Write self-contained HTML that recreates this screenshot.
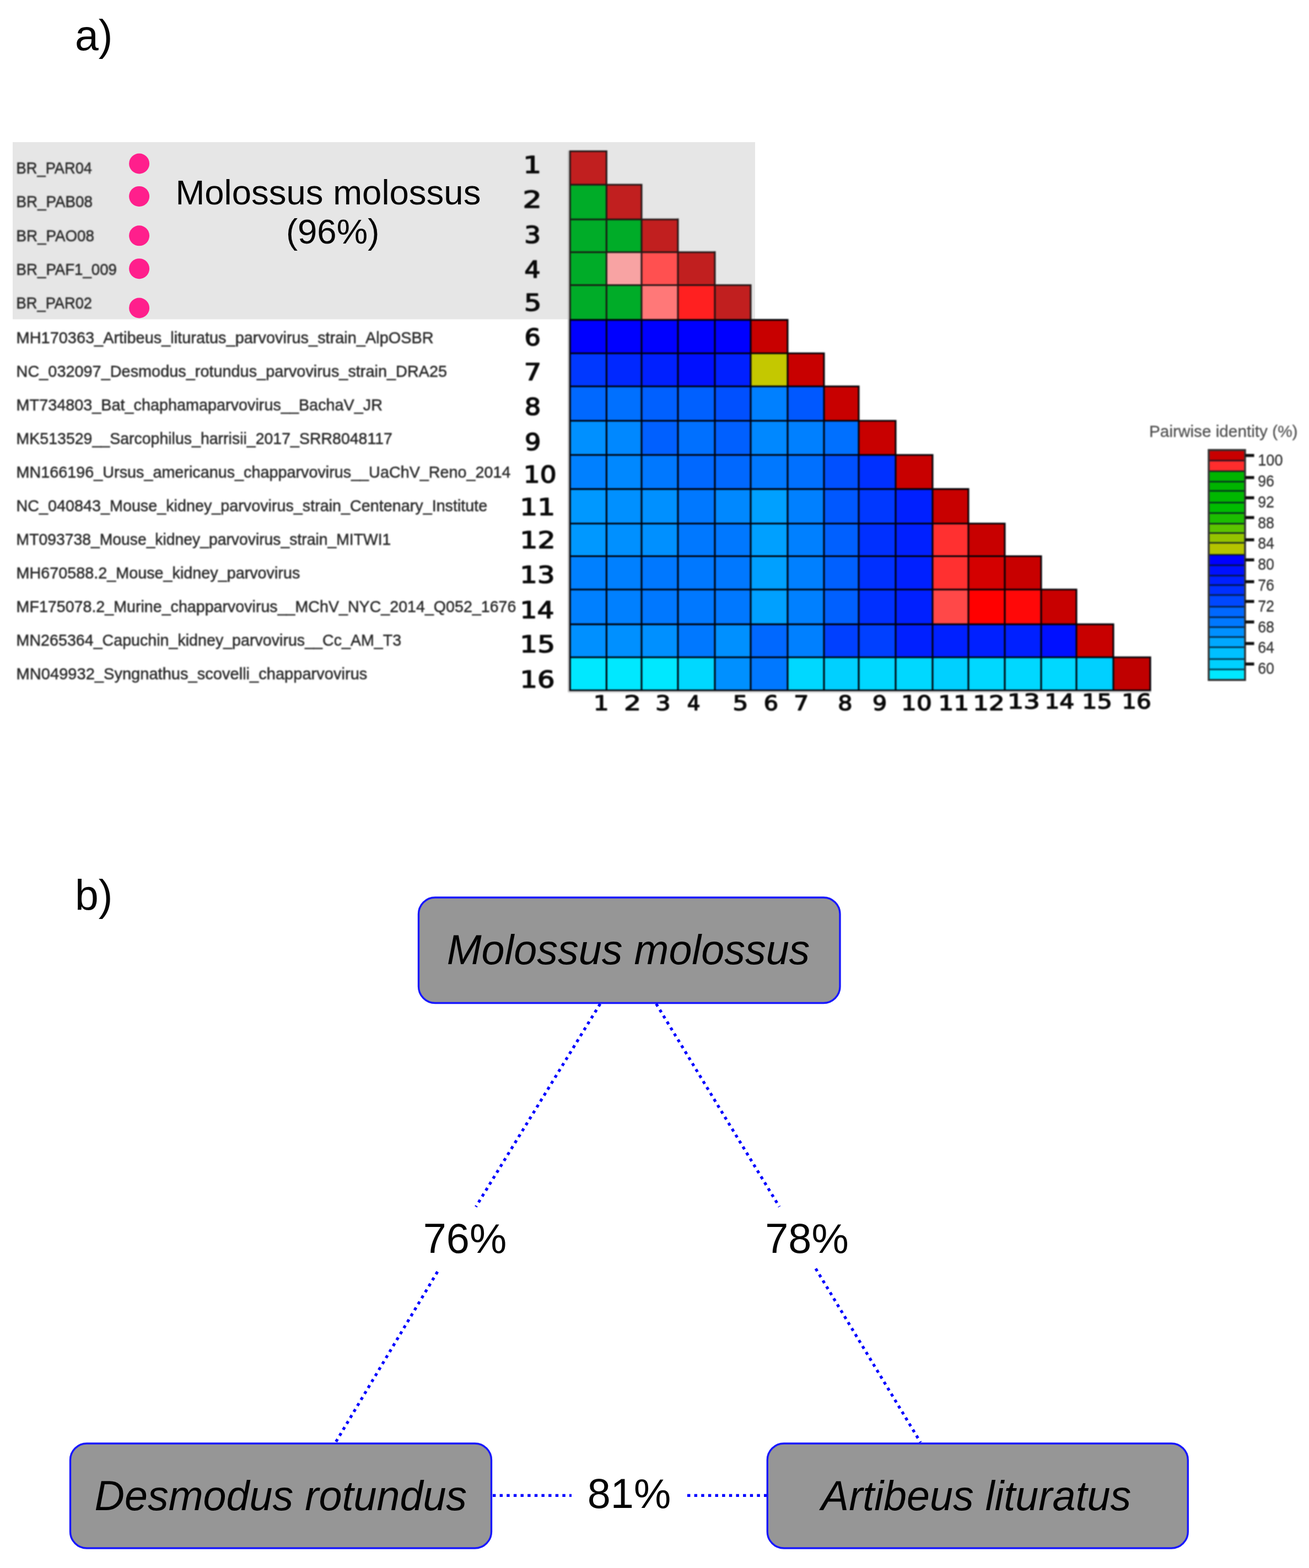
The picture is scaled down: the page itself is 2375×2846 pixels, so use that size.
<!DOCTYPE html>
<html lang="en"><head><meta charset="utf-8"><title>Pairwise identity matrix</title>
<style>
html,body{margin:0;padding:0;background:#fff;}
html,body{width:2375px;height:2846px;}
svg{display:block;}
.lbl{font-family:"Liberation Sans",sans-serif;font-size:30.0px;fill:#2a2a2a;stroke:#2a2a2a;stroke-width:0.55px;}
.num{font-family:"DejaVu Sans","Liberation Sans",sans-serif;font-size:42.9px;fill:#0a0a0a;stroke:#0a0a0a;stroke-width:1.6px;stroke-linejoin:round;}
.cnum{font-family:"DejaVu Sans","Liberation Sans",sans-serif;font-size:37.4px;fill:#0a0a0a;stroke:#0a0a0a;stroke-width:1.5px;stroke-linejoin:round;}
.big{font-family:"Liberation Sans",sans-serif;fill:#050505;}
.it{font-family:"Liberation Sans",sans-serif;font-style:italic;font-size:75.5px;fill:#020202;}
.pct{font-family:"Liberation Sans",sans-serif;font-size:75.7px;fill:#050505;}
.tk{font-family:"Liberation Sans",sans-serif;font-size:30px;fill:#343434;stroke:#343434;stroke-width:0.35px;}
.soft{filter:blur(0.85px);}
.soft2{filter:blur(0.6px);}
</style></head><body>
<svg width="2375" height="2846" viewBox="0 0 2375 2846" role="img" aria-label="Pairwise identity matrix and host similarity diagram">
<rect x="0" y="0" width="2375" height="2846" fill="#ffffff"/>
<text class="big" x="136" y="91" font-size="77">a)</text>
<text class="big" x="136" y="1652" font-size="77">b)</text>
<rect x="23" y="258" width="1347" height="321.5" fill="#e6e6e6"/>
<g id="matrix" class="soft">
<rect x="1034.3" y="274.5" width="66.1" height="60.8" fill="#c11f1f"/>
<rect x="1034.3" y="335.3" width="66.1" height="62.9" fill="#00ac28"/>
<rect x="1100.4" y="335.3" width="63.6" height="62.9" fill="#c11f1f"/>
<rect x="1034.3" y="398.2" width="66.1" height="59.5" fill="#00ac28"/>
<rect x="1100.4" y="398.2" width="63.6" height="59.5" fill="#00ac28"/>
<rect x="1164.0" y="398.2" width="66.0" height="59.5" fill="#c11f1f"/>
<rect x="1034.3" y="457.7" width="66.1" height="59.8" fill="#00ac28"/>
<rect x="1100.4" y="457.7" width="63.6" height="59.8" fill="#f8a3a3"/>
<rect x="1164.0" y="457.7" width="66.0" height="59.8" fill="#ff5050"/>
<rect x="1230.0" y="457.7" width="67.0" height="59.8" fill="#c11f1f"/>
<rect x="1034.3" y="517.5" width="66.1" height="63.1" fill="#00ac28"/>
<rect x="1100.4" y="517.5" width="63.6" height="63.1" fill="#00ac28"/>
<rect x="1164.0" y="517.5" width="66.0" height="63.1" fill="#ff7878"/>
<rect x="1230.0" y="517.5" width="67.0" height="63.1" fill="#ff2020"/>
<rect x="1297.0" y="517.5" width="65.0" height="63.1" fill="#c11f1f"/>
<rect x="1034.3" y="580.6" width="66.1" height="60.6" fill="#0000ff"/>
<rect x="1100.4" y="580.6" width="63.6" height="60.6" fill="#0000ff"/>
<rect x="1164.0" y="580.6" width="66.0" height="60.6" fill="#0000ff"/>
<rect x="1230.0" y="580.6" width="67.0" height="60.6" fill="#0000ff"/>
<rect x="1297.0" y="580.6" width="65.0" height="60.6" fill="#0000ff"/>
<rect x="1362.0" y="580.6" width="67.0" height="60.6" fill="#c80000"/>
<rect x="1034.3" y="641.2" width="66.1" height="60.1" fill="#0038ff"/>
<rect x="1100.4" y="641.2" width="63.6" height="60.1" fill="#0028ff"/>
<rect x="1164.0" y="641.2" width="66.0" height="60.1" fill="#0020ff"/>
<rect x="1230.0" y="641.2" width="67.0" height="60.1" fill="#0010ff"/>
<rect x="1297.0" y="641.2" width="65.0" height="60.1" fill="#0020ff"/>
<rect x="1362.0" y="641.2" width="67.0" height="60.1" fill="#c4c800"/>
<rect x="1429.0" y="641.2" width="66.0" height="60.1" fill="#c80000"/>
<rect x="1034.3" y="701.3" width="66.1" height="62.4" fill="#0068ff"/>
<rect x="1100.4" y="701.3" width="63.6" height="62.4" fill="#0070ff"/>
<rect x="1164.0" y="701.3" width="66.0" height="62.4" fill="#0060ff"/>
<rect x="1230.0" y="701.3" width="67.0" height="62.4" fill="#0060ff"/>
<rect x="1297.0" y="701.3" width="65.0" height="62.4" fill="#0050ff"/>
<rect x="1362.0" y="701.3" width="67.0" height="62.4" fill="#0080ff"/>
<rect x="1429.0" y="701.3" width="66.0" height="62.4" fill="#0058ff"/>
<rect x="1495.0" y="701.3" width="63.0" height="62.4" fill="#c80000"/>
<rect x="1034.3" y="763.7" width="66.1" height="62.0" fill="#0090ff"/>
<rect x="1100.4" y="763.7" width="63.6" height="62.0" fill="#0088ff"/>
<rect x="1164.0" y="763.7" width="66.0" height="62.0" fill="#0060ff"/>
<rect x="1230.0" y="763.7" width="67.0" height="62.0" fill="#0070ff"/>
<rect x="1297.0" y="763.7" width="65.0" height="62.0" fill="#0060ff"/>
<rect x="1362.0" y="763.7" width="67.0" height="62.0" fill="#0088ff"/>
<rect x="1429.0" y="763.7" width="66.0" height="62.0" fill="#0080ff"/>
<rect x="1495.0" y="763.7" width="63.0" height="62.0" fill="#0070ff"/>
<rect x="1558.0" y="763.7" width="67.0" height="62.0" fill="#c80000"/>
<rect x="1034.3" y="825.7" width="66.1" height="61.9" fill="#0080ff"/>
<rect x="1100.4" y="825.7" width="63.6" height="61.9" fill="#0088ff"/>
<rect x="1164.0" y="825.7" width="66.0" height="61.9" fill="#0078ff"/>
<rect x="1230.0" y="825.7" width="67.0" height="61.9" fill="#0068ff"/>
<rect x="1297.0" y="825.7" width="65.0" height="61.9" fill="#0068ff"/>
<rect x="1362.0" y="825.7" width="67.0" height="61.9" fill="#0078ff"/>
<rect x="1429.0" y="825.7" width="66.0" height="61.9" fill="#0070ff"/>
<rect x="1495.0" y="825.7" width="63.0" height="61.9" fill="#0050ff"/>
<rect x="1558.0" y="825.7" width="67.0" height="61.9" fill="#0030ff"/>
<rect x="1625.0" y="825.7" width="67.0" height="61.9" fill="#c80000"/>
<rect x="1034.3" y="887.6" width="66.1" height="62.6" fill="#0098ff"/>
<rect x="1100.4" y="887.6" width="63.6" height="62.6" fill="#0090ff"/>
<rect x="1164.0" y="887.6" width="66.0" height="62.6" fill="#0090ff"/>
<rect x="1230.0" y="887.6" width="67.0" height="62.6" fill="#0078ff"/>
<rect x="1297.0" y="887.6" width="65.0" height="62.6" fill="#0088ff"/>
<rect x="1362.0" y="887.6" width="67.0" height="62.6" fill="#00a0ff"/>
<rect x="1429.0" y="887.6" width="66.0" height="62.6" fill="#0080ff"/>
<rect x="1495.0" y="887.6" width="63.0" height="62.6" fill="#0058ff"/>
<rect x="1558.0" y="887.6" width="67.0" height="62.6" fill="#0038ff"/>
<rect x="1625.0" y="887.6" width="67.0" height="62.6" fill="#0020ff"/>
<rect x="1692.0" y="887.6" width="65.0" height="62.6" fill="#c80000"/>
<rect x="1034.3" y="950.2" width="66.1" height="59.3" fill="#0098ff"/>
<rect x="1100.4" y="950.2" width="63.6" height="59.3" fill="#0090ff"/>
<rect x="1164.0" y="950.2" width="66.0" height="59.3" fill="#0090ff"/>
<rect x="1230.0" y="950.2" width="67.0" height="59.3" fill="#0078ff"/>
<rect x="1297.0" y="950.2" width="65.0" height="59.3" fill="#0078ff"/>
<rect x="1362.0" y="950.2" width="67.0" height="59.3" fill="#00a0ff"/>
<rect x="1429.0" y="950.2" width="66.0" height="59.3" fill="#0080ff"/>
<rect x="1495.0" y="950.2" width="63.0" height="59.3" fill="#0060ff"/>
<rect x="1558.0" y="950.2" width="67.0" height="59.3" fill="#0030ff"/>
<rect x="1625.0" y="950.2" width="67.0" height="59.3" fill="#0020ff"/>
<rect x="1692.0" y="950.2" width="65.0" height="59.3" fill="#ff3030"/>
<rect x="1757.0" y="950.2" width="66.0" height="59.3" fill="#c80000"/>
<rect x="1034.3" y="1009.5" width="66.1" height="60.5" fill="#0080ff"/>
<rect x="1100.4" y="1009.5" width="63.6" height="60.5" fill="#0080ff"/>
<rect x="1164.0" y="1009.5" width="66.0" height="60.5" fill="#0078ff"/>
<rect x="1230.0" y="1009.5" width="67.0" height="60.5" fill="#0078ff"/>
<rect x="1297.0" y="1009.5" width="65.0" height="60.5" fill="#0078ff"/>
<rect x="1362.0" y="1009.5" width="67.0" height="60.5" fill="#00a0ff"/>
<rect x="1429.0" y="1009.5" width="66.0" height="60.5" fill="#0080ff"/>
<rect x="1495.0" y="1009.5" width="63.0" height="60.5" fill="#0060ff"/>
<rect x="1558.0" y="1009.5" width="67.0" height="60.5" fill="#0030ff"/>
<rect x="1625.0" y="1009.5" width="67.0" height="60.5" fill="#0020ff"/>
<rect x="1692.0" y="1009.5" width="65.0" height="60.5" fill="#ff3030"/>
<rect x="1757.0" y="1009.5" width="66.0" height="60.5" fill="#d40000"/>
<rect x="1823.0" y="1009.5" width="66.0" height="60.5" fill="#c80000"/>
<rect x="1034.3" y="1070.0" width="66.1" height="63.1" fill="#0080ff"/>
<rect x="1100.4" y="1070.0" width="63.6" height="63.1" fill="#0080ff"/>
<rect x="1164.0" y="1070.0" width="66.0" height="63.1" fill="#0078ff"/>
<rect x="1230.0" y="1070.0" width="67.0" height="63.1" fill="#0078ff"/>
<rect x="1297.0" y="1070.0" width="65.0" height="63.1" fill="#0078ff"/>
<rect x="1362.0" y="1070.0" width="67.0" height="63.1" fill="#00a0ff"/>
<rect x="1429.0" y="1070.0" width="66.0" height="63.1" fill="#0080ff"/>
<rect x="1495.0" y="1070.0" width="63.0" height="63.1" fill="#0060ff"/>
<rect x="1558.0" y="1070.0" width="67.0" height="63.1" fill="#0030ff"/>
<rect x="1625.0" y="1070.0" width="67.0" height="63.1" fill="#0020ff"/>
<rect x="1692.0" y="1070.0" width="65.0" height="63.1" fill="#ff4848"/>
<rect x="1757.0" y="1070.0" width="66.0" height="63.1" fill="#ff0000"/>
<rect x="1823.0" y="1070.0" width="66.0" height="63.1" fill="#ff0808"/>
<rect x="1889.0" y="1070.0" width="64.0" height="63.1" fill="#c80000"/>
<rect x="1034.3" y="1133.1" width="66.1" height="59.9" fill="#0090ff"/>
<rect x="1100.4" y="1133.1" width="63.6" height="59.9" fill="#0090ff"/>
<rect x="1164.0" y="1133.1" width="66.0" height="59.9" fill="#0090ff"/>
<rect x="1230.0" y="1133.1" width="67.0" height="59.9" fill="#0078ff"/>
<rect x="1297.0" y="1133.1" width="65.0" height="59.9" fill="#0090ff"/>
<rect x="1362.0" y="1133.1" width="67.0" height="59.9" fill="#0068ff"/>
<rect x="1429.0" y="1133.1" width="66.0" height="59.9" fill="#0080ff"/>
<rect x="1495.0" y="1133.1" width="63.0" height="59.9" fill="#0040ff"/>
<rect x="1558.0" y="1133.1" width="67.0" height="59.9" fill="#0040ff"/>
<rect x="1625.0" y="1133.1" width="67.0" height="59.9" fill="#0020ff"/>
<rect x="1692.0" y="1133.1" width="65.0" height="59.9" fill="#0020ff"/>
<rect x="1757.0" y="1133.1" width="66.0" height="59.9" fill="#0020ff"/>
<rect x="1823.0" y="1133.1" width="66.0" height="59.9" fill="#0020ff"/>
<rect x="1889.0" y="1133.1" width="64.0" height="59.9" fill="#0010ff"/>
<rect x="1953.0" y="1133.1" width="67.0" height="59.9" fill="#c80000"/>
<rect x="1034.3" y="1193.0" width="66.1" height="60.0" fill="#00e8ff"/>
<rect x="1100.4" y="1193.0" width="63.6" height="60.0" fill="#00e8ff"/>
<rect x="1164.0" y="1193.0" width="66.0" height="60.0" fill="#00e8ff"/>
<rect x="1230.0" y="1193.0" width="67.0" height="60.0" fill="#00d8ff"/>
<rect x="1297.0" y="1193.0" width="65.0" height="60.0" fill="#0090ff"/>
<rect x="1362.0" y="1193.0" width="67.0" height="60.0" fill="#0078ff"/>
<rect x="1429.0" y="1193.0" width="66.0" height="60.0" fill="#00d8ff"/>
<rect x="1495.0" y="1193.0" width="63.0" height="60.0" fill="#00d0ff"/>
<rect x="1558.0" y="1193.0" width="67.0" height="60.0" fill="#00d8ff"/>
<rect x="1625.0" y="1193.0" width="67.0" height="60.0" fill="#00d8ff"/>
<rect x="1692.0" y="1193.0" width="65.0" height="60.0" fill="#00d0ff"/>
<rect x="1757.0" y="1193.0" width="66.0" height="60.0" fill="#00d8ff"/>
<rect x="1823.0" y="1193.0" width="66.0" height="60.0" fill="#00d8ff"/>
<rect x="1889.0" y="1193.0" width="64.0" height="60.0" fill="#00d8ff"/>
<rect x="1953.0" y="1193.0" width="67.0" height="60.0" fill="#00d0ff"/>
<rect x="2020.0" y="1193.0" width="67.0" height="60.0" fill="#c00000"/>
<path d="M1031.3 273.5V1256.0" stroke="#c4c4c4" stroke-width="2.6" fill="none"/>
<path d="M1031.3 1256.2H2088.5" stroke="#d6d6d6" stroke-width="2.6" fill="none"/>
<path d="M1032.8 274.5H1102.0M1032.8 335.3H1165.5M1032.8 398.2H1231.5M1032.8 457.7H1298.5M1032.8 517.5H1363.5M1034.3 272.9V579.1M1100.4 272.9V579.1M1164.0 333.8V579.1M1230.0 396.6V579.1M1297.0 456.1V579.1M1362.0 516.0V579.1" stroke="#181010" stroke-opacity="0.92" stroke-width="3.1" fill="none"/>
<path d="M1032.8 580.6H1430.5M1032.8 641.2H1496.5M1032.8 701.3H1559.5M1032.8 763.7H1626.5M1032.8 825.7H1693.5M1032.8 887.6H1758.5M1032.8 950.2H1824.5M1032.8 1009.5H1890.5M1032.8 1070.0H1954.5M1032.8 1133.1H2021.5M1032.8 1193.0H2088.6M1032.8 1253.0H2088.6M1034.3 579.1V1254.5M1100.4 579.1V1254.5M1164.0 579.1V1254.5M1230.0 579.1V1254.5M1297.0 579.1V1254.5M1362.0 579.1V1254.5M1429.0 579.1V1254.5M1495.0 639.7V1254.5M1558.0 699.8V1254.5M1625.0 762.2V1254.5M1692.0 824.2V1254.5M1757.0 886.1V1254.5M1823.0 948.7V1254.5M1889.0 1008.0V1254.5M1953.0 1068.5V1254.5M2020.0 1131.5V1254.5M2087.0 1191.5V1254.5" stroke="#000006" stroke-opacity="0.97" stroke-width="3.1" fill="none"/>
</g>
<g id="hl" class="soft2">
<circle cx="252.6" cy="297.0" r="18.5" fill="#ff1f8c"/>
<circle cx="252.6" cy="356.4" r="18.5" fill="#ff1f8c"/>
<circle cx="252.6" cy="427.8" r="18.5" fill="#ff1f8c"/>
<circle cx="252.6" cy="487.7" r="18.5" fill="#ff1f8c"/>
<circle cx="252.6" cy="559.0" r="18.5" fill="#ff1f8c"/>
<text class="big" x="595.4" y="370.8" font-size="63.5" text-anchor="middle">Molossus molossus</text>
<text class="big" x="603.6" y="441.8" font-size="63.5" text-anchor="middle">(96%)</text>
</g>
<g id="labels" class="soft">
<text class="lbl" x="29.6" y="315.0" textLength="137.4" lengthAdjust="spacingAndGlyphs">BR_PAR04</text>
<text class="lbl" x="29.6" y="376.3" textLength="138.4" lengthAdjust="spacingAndGlyphs">BR_PAB08</text>
<text class="lbl" x="29.6" y="437.6" textLength="141.4" lengthAdjust="spacingAndGlyphs">BR_PAO08</text>
<text class="lbl" x="29.6" y="498.9" textLength="182.4" lengthAdjust="spacingAndGlyphs">BR_PAF1_009</text>
<text class="lbl" x="29.6" y="560.2" textLength="137.4" lengthAdjust="spacingAndGlyphs">BR_PAR02</text>
<text class="lbl" x="29.6" y="622.6" textLength="757.1" lengthAdjust="spacingAndGlyphs">MH170363_Artibeus_lituratus_parvovirus_strain_AlpOSBR</text>
<text class="lbl" x="29.6" y="683.6" textLength="781.5" lengthAdjust="spacingAndGlyphs">NC_032097_Desmodus_rotundus_parvovirus_strain_DRA25</text>
<text class="lbl" x="29.6" y="744.6" textLength="664.4" lengthAdjust="spacingAndGlyphs">MT734803_Bat_chaphamaparvovirus__BachaV_JR</text>
<text class="lbl" x="29.6" y="805.7" textLength="682.3" lengthAdjust="spacingAndGlyphs">MK513529__Sarcophilus_harrisii_2017_SRR8048117</text>
<text class="lbl" x="29.6" y="866.7" textLength="897.0" lengthAdjust="spacingAndGlyphs">MN166196_Ursus_americanus_chapparvovirus__UaChV_Reno_2014</text>
<text class="lbl" x="29.6" y="927.7" textLength="854.7" lengthAdjust="spacingAndGlyphs">NC_040843_Mouse_kidney_parvovirus_strain_Centenary_Institute</text>
<text class="lbl" x="29.6" y="988.7" textLength="679.7" lengthAdjust="spacingAndGlyphs">MT093738_Mouse_kidney_parvovirus_strain_MITWI1</text>
<text class="lbl" x="29.6" y="1049.7" textLength="514.7" lengthAdjust="spacingAndGlyphs">MH670588.2_Mouse_kidney_parvovirus</text>
<text class="lbl" x="29.6" y="1110.8" textLength="906.8" lengthAdjust="spacingAndGlyphs">MF175078.2_Murine_chapparvovirus__MChV_NYC_2014_Q052_1676</text>
<text class="lbl" x="29.6" y="1171.8" textLength="698.6" lengthAdjust="spacingAndGlyphs">MN265364_Capuchin_kidney_parvovirus__Cc_AM_T3</text>
<text class="lbl" x="29.6" y="1232.8" textLength="636.8" lengthAdjust="spacingAndGlyphs">MN049932_Syngnathus_scovelli_chapparvovirus</text>
<text class="num" transform="translate(949.25 314.20) scale(1.2085 1)">1</text>
<text class="num" transform="translate(948.39 376.70) scale(1.2637 1)">2</text>
<text class="num" transform="translate(951.27 440.70) scale(1.0975 1)">3</text>
<text class="num" transform="translate(951.61 503.50) scale(1.0667 1)">4</text>
<text class="num" transform="translate(951.05 563.50) scale(1.1507 1)">5</text>
<text class="num" transform="translate(951.61 626.50) scale(1.0798 1)">6</text>
<text class="num" transform="translate(950.78 690.00) scale(1.1580 1)">7</text>
<text class="num" transform="translate(951.68 753.00) scale(1.0862 1)">8</text>
<text class="num" transform="translate(951.93 816.50) scale(1.0798 1)">9</text>
<text class="num" transform="translate(949.77 875.80) scale(1.0974 1)">10</text>
<text class="num" transform="translate(943.31 935.20) scale(1.1742 1)">11</text>
<text class="num" transform="translate(943.27 995.20) scale(1.1831 1)">12</text>
<text class="num" transform="translate(943.37 1058.40) scale(1.1612 1)">13</text>
<text class="num" transform="translate(943.49 1121.50) scale(1.1360 1)">14</text>
<text class="num" transform="translate(943.33 1184.40) scale(1.1688 1)">15</text>
<text class="num" transform="translate(943.40 1247.70) scale(1.1560 1)">16</text>
<text class="cnum" transform="translate(1076.76 1288.70) scale(1.1767 1)">1</text>
<text class="cnum" transform="translate(1132.37 1288.70) scale(1.2936 1)">2</text>
<text class="cnum" transform="translate(1189.31 1288.70) scale(1.1586 1)">3</text>
<text class="cnum" transform="translate(1246.76 1288.70) scale(1.0020 1)">4</text>
<text class="cnum" transform="translate(1329.42 1288.70) scale(1.1726 1)">5</text>
<text class="cnum" transform="translate(1385.81 1288.70) scale(1.1057 1)">6</text>
<text class="cnum" transform="translate(1440.30 1288.70) scale(1.1402 1)">7</text>
<text class="cnum" transform="translate(1520.18 1288.70) scale(1.1070 1)">8</text>
<text class="cnum" transform="translate(1583.01 1288.70) scale(1.1003 1)">9</text>
<text class="cnum" transform="translate(1635.08 1288.70) scale(1.1710 1)">10</text>
<text class="cnum" transform="translate(1702.15 1288.70) scale(1.1795 1)">11</text>
<text class="cnum" transform="translate(1765.24 1288.70) scale(1.2060 1)">12</text>
<text class="cnum" transform="translate(1827.69 1285.50) scale(1.2430 1)">13</text>
<text class="cnum" transform="translate(1895.21 1285.50) scale(1.1411 1)">14</text>
<text class="cnum" transform="translate(1963.05 1285.50) scale(1.1541 1)">15</text>
<text class="cnum" transform="translate(2035.17 1285.50) scale(1.1264 1)">16</text>
<text class="tk" x="2085" y="793" style="font-size:29px;fill:#505050;stroke:#505050;stroke-width:0.3px" textLength="269.5" lengthAdjust="spacingAndGlyphs">Pairwise identity (%)</text>
<rect x="2193" y="816.8" width="66" height="19.3" fill="#c80000"/>
<rect x="2193" y="836.1" width="66" height="19.1" fill="#ff2d2d"/>
<rect x="2193" y="855.2" width="66" height="19.1" fill="#00b400"/>
<rect x="2193" y="874.3" width="66" height="16.8" fill="#00b400"/>
<rect x="2193" y="891.1" width="66" height="21.1" fill="#00b800"/>
<rect x="2193" y="912.2" width="66" height="19.1" fill="#00bc00"/>
<rect x="2193" y="931.2" width="66" height="19.3" fill="#1cbe00"/>
<rect x="2193" y="950.6" width="66" height="16.8" fill="#5cc400"/>
<rect x="2193" y="967.4" width="66" height="17.8" fill="#94c400"/>
<rect x="2193" y="985.2" width="66" height="21.8" fill="#b4c400"/>
<rect x="2193" y="1007.0" width="66" height="19.1" fill="#0000ff"/>
<rect x="2193" y="1026.1" width="66" height="18.6" fill="#0010ff"/>
<rect x="2193" y="1044.7" width="66" height="17.3" fill="#0020ff"/>
<rect x="2193" y="1062.0" width="66" height="17.8" fill="#0030ff"/>
<rect x="2193" y="1079.9" width="66" height="21.3" fill="#0048ff"/>
<rect x="2193" y="1101.2" width="66" height="19.1" fill="#0068ff"/>
<rect x="2193" y="1120.2" width="66" height="18.1" fill="#0078ff"/>
<rect x="2193" y="1138.3" width="66" height="17.8" fill="#0090ff"/>
<rect x="2193" y="1156.2" width="66" height="18.6" fill="#00a8ff"/>
<rect x="2193" y="1174.7" width="66" height="21.6" fill="#00c0ff"/>
<rect x="2193" y="1196.3" width="66" height="18.8" fill="#00d0ff"/>
<rect x="2193" y="1215.1" width="66" height="19.1" fill="#00e8ff"/>
<path d="M2193 816.8H2259M2193 836.1H2259M2193 855.2H2259M2193 874.3H2259M2193 891.1H2259M2193 912.2H2259M2193 931.2H2259M2193 950.6H2259M2193 967.4H2259M2193 985.2H2259M2193 1007.0H2259M2193 1026.1H2259M2193 1044.7H2259M2193 1062.0H2259M2193 1079.9H2259M2193 1101.2H2259M2193 1120.2H2259M2193 1138.3H2259M2193 1156.2H2259M2193 1174.7H2259M2193 1196.3H2259M2193 1215.1H2259M2193 1234.2H2259" stroke="#001020" stroke-opacity="0.75" stroke-width="3" fill="none"/>
<rect x="2193" y="816.8" width="66" height="417.4" fill="none" stroke="#333" stroke-width="3.5"/>
<path d="M2259 826.7H2275.5" stroke="#111" stroke-width="5.5"/>
<text class="tk" x="2282.2" y="845.3" textLength="45.3" lengthAdjust="spacingAndGlyphs">100</text>
<path d="M2259 866.8H2275.5" stroke="#111" stroke-width="5.5"/>
<text class="tk" x="2282.2" y="883.1" textLength="29.8" lengthAdjust="spacingAndGlyphs">96</text>
<path d="M2259 903.5H2275.5" stroke="#111" stroke-width="5.5"/>
<text class="tk" x="2282.2" y="920.9" textLength="29.8" lengthAdjust="spacingAndGlyphs">92</text>
<path d="M2259 939.4H2275.5" stroke="#111" stroke-width="5.5"/>
<text class="tk" x="2282.2" y="958.6" textLength="29.8" lengthAdjust="spacingAndGlyphs">88</text>
<path d="M2259 979.8H2275.5" stroke="#111" stroke-width="5.5"/>
<text class="tk" x="2282.2" y="996.4" textLength="29.8" lengthAdjust="spacingAndGlyphs">84</text>
<path d="M2259 1016.2H2275.5" stroke="#111" stroke-width="5.5"/>
<text class="tk" x="2282.2" y="1034.2" textLength="29.8" lengthAdjust="spacingAndGlyphs">80</text>
<path d="M2259 1055.8H2275.5" stroke="#111" stroke-width="5.5"/>
<text class="tk" x="2282.2" y="1072.0" textLength="29.8" lengthAdjust="spacingAndGlyphs">76</text>
<path d="M2259 1091.7H2275.5" stroke="#111" stroke-width="5.5"/>
<text class="tk" x="2282.2" y="1109.8" textLength="29.8" lengthAdjust="spacingAndGlyphs">72</text>
<path d="M2259 1128.9H2275.5" stroke="#111" stroke-width="5.5"/>
<text class="tk" x="2282.2" y="1147.5" textLength="29.8" lengthAdjust="spacingAndGlyphs">68</text>
<path d="M2259 1168.0H2275.5" stroke="#111" stroke-width="5.5"/>
<text class="tk" x="2282.2" y="1185.3" textLength="29.8" lengthAdjust="spacingAndGlyphs">64</text>
<path d="M2259 1205.2H2275.5" stroke="#111" stroke-width="5.5"/>
<text class="tk" x="2282.2" y="1223.1" textLength="29.8" lengthAdjust="spacingAndGlyphs">60</text>
</g>
<g id="partb" class="soft2">
<rect x="759.5" y="1629" width="764.5" height="191.5" rx="30" ry="30" fill="#969696" stroke="#1818ff" stroke-width="3.4"/>
<rect x="127.5" y="2620" width="764" height="190" rx="30" ry="30" fill="#969696" stroke="#1818ff" stroke-width="3.4"/>
<rect x="1392.3" y="2620" width="763" height="190" rx="30" ry="30" fill="#969696" stroke="#1818ff" stroke-width="3.4"/>
<text class="it" x="1140" y="1749.5" text-anchor="middle">Molossus molossus</text>
<text class="it" x="509.3" y="2740.5" text-anchor="middle">Desmodus rotundus</text>
<text class="it" x="1771" y="2740.5" text-anchor="middle">Artibeus lituratus</text>
<text class="pct" x="843.5" y="2273.8" text-anchor="middle">76%</text>
<text class="pct" x="1464" y="2273.8" text-anchor="middle">78%</text>
<text class="pct" x="1141.5" y="2737" text-anchor="middle">81%</text>
<path d="M1088.9 1822L863.4 2190.3" stroke="#0000ff" stroke-width="5.2" stroke-dasharray="5.4 7.24" fill="none"/>
<path d="M1190.6 1822L1414 2190.3" stroke="#0000ff" stroke-width="5.2" stroke-dasharray="5.4 7.24" fill="none"/>
<path d="M793.8 2308.2L608.9 2618" stroke="#0000ff" stroke-width="5.2" stroke-dasharray="5.4 7.24" fill="none"/>
<path d="M1480 2302.6L1670.2 2618" stroke="#0000ff" stroke-width="5.2" stroke-dasharray="5.4 7.24" fill="none"/>
<path d="M894 2714.4H1037" stroke="#0000ff" stroke-width="5.2" stroke-dasharray="5.4 7.24" fill="none"/>
<path d="M1247 2714.4H1391" stroke="#0000ff" stroke-width="5.2" stroke-dasharray="5.4 7.24" fill="none"/>
</g>
</svg>
</body></html>
